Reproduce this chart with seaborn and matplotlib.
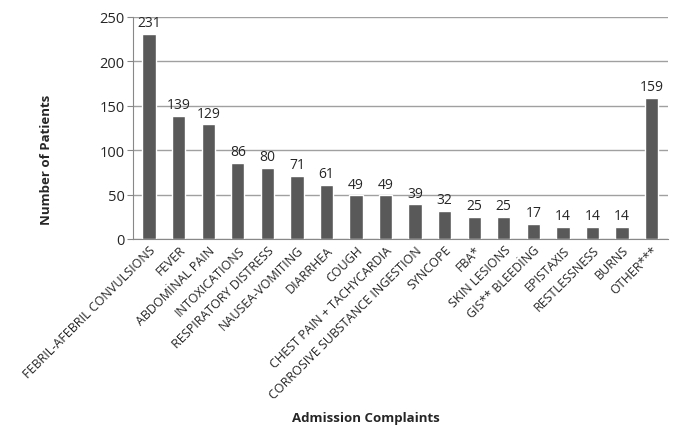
import pandas as pd
import matplotlib.pyplot as plt
import seaborn as sns

# Admission complaints and patient counts
complaints = ['FEBRIL-AFEBRIL CONVULSIONS', 'FEVER', 'ABDOMİNAL PAIN', 'INTOXICATIONS',
              'RESPIRATORY DISTRESS', 'NAUSEA-VOMITING', 'DIARRHEA', 'COUGH',
              'CHEST PAIN + TACHYCARDIA', 'CORROSIVE SUBSTANCE INGESTION', 'SYNCOPE',
              'FBA*', 'SKIN LESIONS', 'GIS** BLEEDİNG', 'EPISTAXIS', 'RESTLESSNESS',
              'BURNS', 'OTHER***']
patients = [231, 139, 129, 86, 80, 71, 61, 49, 49, 39, 32, 25, 25, 17, 14, 14, 14, 159]
yticks = [0, 50, 100, 150, 200, 250]

df = pd.DataFrame({'Complaint': complaints, 'Patients': patients})

sns.set_style('white')
plt.rcParams['font.family'] = ['Open Sans', 'DejaVu Sans']

fig = plt.figure(figsize=(6.78, 4.27), dpi=100)
ax = fig.add_axes([0.196, 0.438, 0.789, 0.52])

sns.barplot(data=df, x='Complaint', y='Patients', color='#595959', width=0.45,
            saturation=1, ax=ax)

ax.set_ylim(0, 250)
ax.set_yticks(yticks)
ax.set_xlim(-0.55, len(complaints) - 0.45)
ax.yaxis.grid(True, color='#a0a0a0', linewidth=1)
ax.set_axisbelow(True)
for s in ['top', 'right']:
    ax.spines[s].set_visible(False)
for s in ['left', 'bottom']:
    ax.spines[s].set_color('#888888')
ax.tick_params(axis='y', length=4, color='#888888', labelsize=10.5, pad=2, left=True)
ax.tick_params(axis='x', length=0, labelsize=9, pad=3)

ax.set_xticks(range(len(complaints)))
ax.set_xticklabels(complaints, rotation=45, ha='right', rotation_mode='anchor')

for i, v in enumerate(patients):
    ax.text(i, v + 4, str(v), ha='center', va='bottom', fontsize=10)

ax.set_xlabel('Admission Complaints', fontsize=9.5, fontweight='bold')
ax.set_ylabel('Number of Patients', fontsize=9.5, fontweight='bold')
ax.xaxis.set_label_coords(0.435, -0.775)
ax.yaxis.set_label_coords(-0.15, 0.36)

plt.savefig('out.png', dpi=100)
